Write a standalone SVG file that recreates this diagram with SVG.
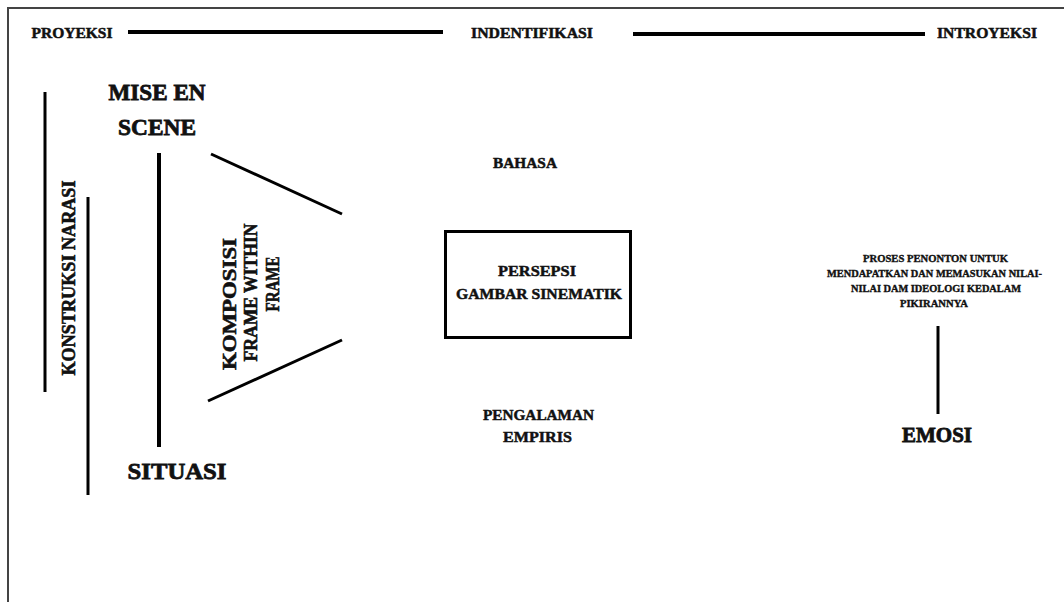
<svg xmlns="http://www.w3.org/2000/svg" width="1064" height="602" viewBox="0 0 1064 602">
<style>
text{font-family:"Liberation Serif","Times New Roman",serif;font-weight:bold;fill:#111;stroke:#111;stroke-width:0.5px;text-anchor:middle}
.h{font-size:15px}
.big{font-size:24px;stroke-width:0.8px}
.m{font-size:15.5px}
.s{font-size:10px;stroke-width:0.35px}
.v{font-size:18px;stroke-width:0.6px}
.ln{stroke:#000;stroke-width:3;fill:none}
.thick{stroke:#000;stroke-width:4;fill:none}
</style>
<rect width="1064" height="602" fill="#fff"/>
<g id="frame">
<path d="M8,602 V8 H1064" fill="none" stroke="#444" stroke-width="2"/>
</g>
<g id="connectors">
<line class="thick" x1="128" y1="32" x2="443" y2="32"/>
<line class="thick" x1="633" y1="34" x2="925" y2="34"/>
<line class="ln" x1="45" y1="92" x2="45" y2="392"/>
<line class="ln" x1="88" y1="197" x2="88" y2="495"/>
<line class="thick" x1="159" y1="153" x2="159" y2="447"/>
<line class="ln" x1="211" y1="154" x2="342" y2="214"/>
<line class="ln" x1="208" y1="401" x2="342" y2="340"/>
<line class="ln" x1="938" y1="326" x2="938" y2="414"/>
</g>
<g id="proyeksi"><text class="h" x="72" y="38" textLength="81" lengthAdjust="spacingAndGlyphs">PROYEKSI</text></g>
<g id="indentifikasi"><text class="h" x="532" y="38" textLength="122" lengthAdjust="spacingAndGlyphs">INDENTIFIKASI</text></g>
<g id="introyeksi"><text class="h" x="987" y="38" textLength="100" lengthAdjust="spacingAndGlyphs">INTROYEKSI</text></g>
<g id="mise-en-scene">
<text class="big" x="157" y="100" textLength="97" lengthAdjust="spacingAndGlyphs">MISE EN</text>
<text class="big" x="157" y="135" textLength="78" lengthAdjust="spacingAndGlyphs">SCENE</text>
</g>
<g id="situasi"><text class="big" x="177" y="479" textLength="99" lengthAdjust="spacingAndGlyphs">SITUASI</text></g>
<g id="konstruksi-narasi"><text class="v" style="font-size:19px" transform="translate(75,278) rotate(-90)" textLength="195" lengthAdjust="spacingAndGlyphs">KONSTRUKSI NARASI</text></g>
<g id="komposisi">
<text class="v" transform="translate(236,304) rotate(-90)" textLength="132" lengthAdjust="spacingAndGlyphs">KOMPOSISI</text>
<text class="v" transform="translate(257,292.5) rotate(-90)" textLength="138" lengthAdjust="spacingAndGlyphs">FRAME WITHIN</text>
<text class="v" transform="translate(279,284) rotate(-90)" textLength="55" lengthAdjust="spacingAndGlyphs">FRAME</text>
</g>
<g id="bahasa"><text class="m" x="525" y="168" textLength="64" lengthAdjust="spacingAndGlyphs">BAHASA</text></g>
<g id="persepsi">
<rect x="445.5" y="231.5" width="185" height="106" fill="none" stroke="#000" stroke-width="3"/>
<text class="m" x="537" y="276" textLength="78" lengthAdjust="spacingAndGlyphs">PERSEPSI</text>
<text class="m" x="539" y="299" textLength="166" lengthAdjust="spacingAndGlyphs">GAMBAR SINEMATIK</text>
</g>
<g id="pengalaman">
<text class="m" x="538.5" y="420" textLength="111" lengthAdjust="spacingAndGlyphs">PENGALAMAN</text>
<text class="m" x="537.5" y="442" textLength="69" lengthAdjust="spacingAndGlyphs">EMPIRIS</text>
</g>
<g id="proses">
<text class="s" x="935.5" y="262" textLength="145" lengthAdjust="spacingAndGlyphs">PROSES PENONTON UNTUK</text>
<text class="s" x="934.5" y="277" textLength="215" lengthAdjust="spacingAndGlyphs">MENDAPATKAN DAN MEMASUKAN NILAI-</text>
<text class="s" x="936" y="292" textLength="170" lengthAdjust="spacingAndGlyphs">NILAI DAM IDEOLOGI KEDALAM</text>
<text class="s" x="934" y="307" textLength="68" lengthAdjust="spacingAndGlyphs">PIKIRANNYA</text>
</g>
<g id="emosi"><text class="big" style="font-size:21px" x="937" y="442" textLength="70" lengthAdjust="spacingAndGlyphs">EMOSI</text></g>
</svg>
